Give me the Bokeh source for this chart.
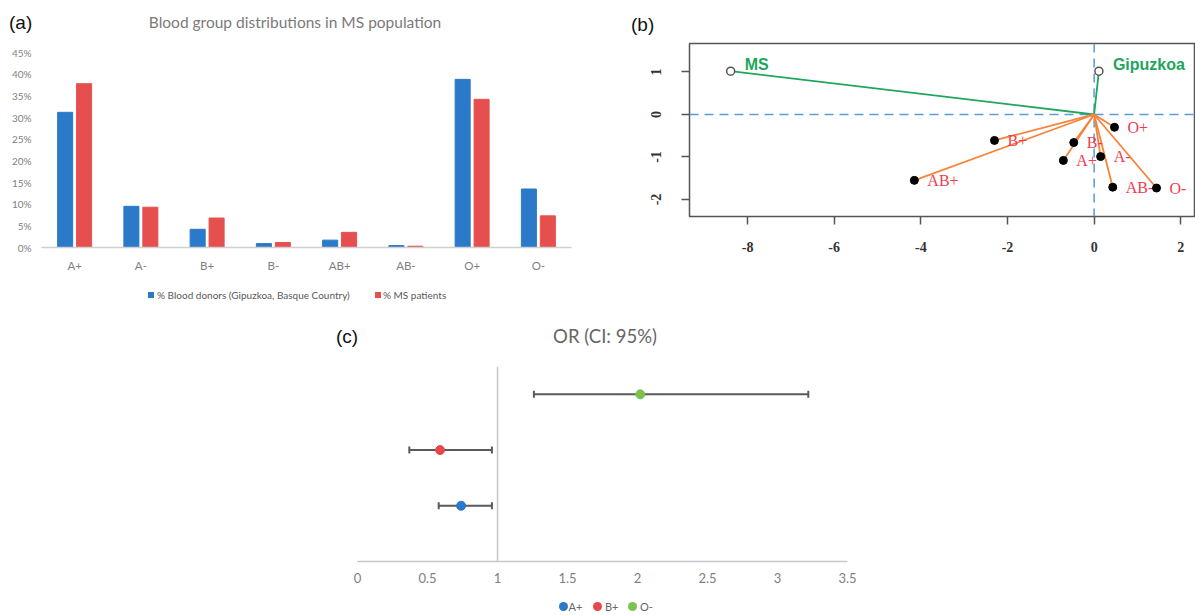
from bokeh.plotting import figure
from bokeh.models import (ColumnDataSource, FactorRange, Span, Whisker, TeeHead, Div,
                          NumeralTickFormatter, FixedTicker)
from bokeh.transform import dodge
from bokeh.core.properties import value
from bokeh.embed import file_html
from bokeh.resources import INLINE

# ---------------- data ----------------
# (a) blood group distributions
groups = ["A+", "A-", "B+", "B-", "AB+", "AB-", "O+", "O-"]
donors = [0.312, 0.095, 0.042, 0.009, 0.017, 0.0045, 0.388, 0.135]
ms_patients = [0.378, 0.093, 0.068, 0.0115, 0.035, 0.003, 0.342, 0.073]
pct_ticks = [0, 0.05, 0.10, 0.15, 0.20, 0.25, 0.30, 0.35, 0.40, 0.45]
series_a = ["% Blood donors (Gipuzkoa, Basque Country)", "% MS patients"]
title_a = "Blood group distributions in MS population"

# (b) correspondence analysis biplot
pop_names = ["MS", "Gipuzkoa"]
pop_x = [-8.39, 0.11]
pop_y = [1.02, 1.02]
bg_names = ["O+", "B+", "B-", "A+", "A-", "AB+", "AB-", "O-"]
bg_x = [0.47, -2.30, -0.47, -0.71, 0.15, -4.15, 0.43, 1.44]
bg_y = [-0.30, -0.61, -0.66, -1.08, -0.99, -1.55, -1.71, -1.73]
b_xticks = [-8, -6, -4, -2, 0, 2, 4]
b_yticks = [-2, -1, 0, 1]

# (c) odds ratios with 95% CI
or_groups = ["A+", "B+", "O-"]
or_vals = [0.74, 0.59, 2.02]
or_lo = [0.58, 0.37, 1.26]
or_hi = [0.96, 0.96, 3.22]
or_pos = [1, 2, 3]
or_colors = ["#2a7ac9", "#e8484b", "#7cc24f"]
c_xticks = [0, 0.5, 1, 1.5, 2, 2.5, 3, 3.5]
title_c = "OR (CI: 95%)"

BLUE = "#2a7ac9"
RED = "#e5504f"
EXCEL_FONT = "Lato"
PANEL_FONT = "Liberation Sans"

# ---------------- panel (a) ----------------
pa = figure(x_range=FactorRange(*groups, range_padding=0), y_range=(0, 0.45),
            width=595, height=315, output_backend="svg", toolbar_location=None,
            min_border_left=41, min_border_right=24, min_border_top=52, min_border_bottom=68,
            name="panel_a")
src_a = ColumnDataSource(dict(group=groups, donors=donors, ms=ms_patients))
pa.vbar(x=dodge("group", -0.143, range=pa.x_range), top="donors", width=0.227,
        source=src_a, fill_color=BLUE, line_color=BLUE)
pa.vbar(x=dodge("group", 0.143, range=pa.x_range), top="ms", width=0.227,
        source=src_a, fill_color=RED, line_color=RED)
pa.xgrid.visible = False
pa.ygrid.visible = False
pa.outline_line_color = None
pa.xaxis.axis_line_color = "#d0d0d0"
pa.xaxis.axis_line_width = 1.5
pa.xaxis.major_tick_line_color = None
pa.xaxis.major_tick_out = 0
pa.xaxis.minor_tick_line_color = None
pa.xaxis.major_label_text_color = "#7f7f7f"
pa.xaxis.major_label_text_font = EXCEL_FONT
pa.xaxis.major_label_text_font_size = "11.5px"
pa.xaxis.major_label_standoff = 11
pa.yaxis.axis_line_color = None
pa.yaxis.major_tick_line_color = None
pa.yaxis.major_tick_out = 0
pa.yaxis.minor_tick_line_color = None
pa.yaxis.ticker = FixedTicker(ticks=pct_ticks)
pa.yaxis.formatter = NumeralTickFormatter(format="0%")
pa.yaxis.major_label_text_color = "#7f7f7f"
pa.yaxis.major_label_text_font = EXCEL_FONT
pa.yaxis.major_label_text_font_size = "10px"
pa.yaxis.major_label_standoff = 10

# ---------------- panel (b) ----------------
pb = figure(x_range=(-9.34, 2.34), y_range=(-2.40, 1.67), width=595, height=265,
            output_backend="svg", toolbar_location=None,
            min_border_left=89, min_border_right=0, min_border_top=43, min_border_bottom=49,
            name="panel_b")
pb.xgrid.visible = False
pb.ygrid.visible = False
pb.outline_line_color = "#555555"
pb.outline_line_width = 1.5
for ax in (pb.xaxis, pb.yaxis):
    ax.axis_line_color = None
    ax.major_tick_in = 0
    ax.major_tick_out = 8
    ax.major_tick_line_color = "#555555"
    ax.major_tick_line_width = 1.5
    ax.minor_tick_line_color = None
    ax.formatter = NumeralTickFormatter(format="0")
    ax.major_label_text_font = "Liberation Serif"
    ax.major_label_text_font_size = "14px"
    ax.major_label_text_color = "#333333"
    ax.major_label_text_font_style = "bold"
pb.xaxis.ticker = FixedTicker(ticks=b_xticks)
pb.yaxis.ticker = FixedTicker(ticks=b_yticks)
pb.xaxis.major_label_standoff = 17
pb.yaxis.major_label_standoff = 20
pb.yaxis.major_label_orientation = "vertical"

pb.add_layout(Span(location=0, dimension="height", line_color="#5b9bd8", line_width=1.5,
                   line_dash="9 6", level="underlay"))
pb.add_layout(Span(location=0, dimension="width", line_color="#5b9bd8", line_width=1.5,
                   line_dash="9 6", level="underlay"))

src_pop = ColumnDataSource(dict(x=pop_x, y=pop_y, name=pop_names))
src_bg = ColumnDataSource(dict(x=bg_x, y=bg_y, name=bg_names))
pb.segment(x0=0, y0=0, x1="x", y1="y", source=src_pop, line_color="#1fa65c", line_width=1.8)
pb.segment(x0=0, y0=0, x1="x", y1="y", source=src_bg, line_color="#f5843a", line_width=1.8)
pb.text(x="x", y="y", text="name", source=src_bg, x_offset=13, text_baseline="middle",
        text_align="left", text_font=value("Liberation Serif"), text_font_size="16px",
        text_color="#f23b4e")
pb.text(x="x", y="y", text="name", source=src_pop, x_offset=14, y_offset=-7,
        text_baseline="middle", text_align="left", text_font=value("Liberation Sans"),
        text_font_size="16px", text_font_style="bold", text_color="#1fa65c")
pb.scatter(x="x", y="y", source=src_bg, size=8, fill_color="black", line_color="black")
pb.scatter(x="x", y="y", source=src_pop, size=8, fill_color="white", line_color="#555555",
           line_width=1.5)

# ---------------- panel (c) ----------------
pc = figure(x_range=(0, 3.5), y_range=(0, 3.5), width=577, height=297,
            output_backend="svg", toolbar_location=None,
            min_border_left=57, min_border_right=30, min_border_top=48, min_border_bottom=54,
            name="panel_c")
pc.xgrid.visible = False
pc.ygrid.visible = False
pc.outline_line_color = None
pc.yaxis.visible = False
pc.xaxis.ticker = FixedTicker(ticks=c_xticks)
pc.xaxis.formatter = NumeralTickFormatter(format="0.[0]")
pc.xaxis.axis_line_color = "#c8c8c8"
pc.xaxis.axis_line_width = 1.5
pc.xaxis.major_tick_line_color = None
pc.xaxis.major_tick_out = 0
pc.xaxis.minor_tick_line_color = None
pc.xaxis.major_label_text_color = "#7f7f7f"
pc.xaxis.major_label_text_font = EXCEL_FONT
pc.xaxis.major_label_text_font_size = "13px"
pc.xaxis.major_label_standoff = 11
pc.add_layout(Span(location=1, dimension="height", line_color="#c8c8c8", line_width=1.5,
                   level="underlay"))
src_c = ColumnDataSource(dict(grp=or_groups, orv=or_vals, lo=or_lo, hi=or_hi, ypos=or_pos,
                              col=or_colors))
pc.add_layout(Whisker(source=src_c, base="ypos", lower="lo", upper="hi", dimension="width",
                      line_color="#5a5a5a", line_width=2,
                      upper_head=TeeHead(size=7, line_color="#5a5a5a", line_width=2),
                      lower_head=TeeHead(size=7, line_color="#5a5a5a", line_width=2)))
pc.scatter(x="orv", y="ypos", source=src_c, size=9, fill_color="col", line_color="col")


# ---------------- texts outside the plot frames (titles, panel tags, legends) ----------------
def txt(x, yc, text, size, color, font=EXCEL_FONT, align="left", weight="normal"):
    lh = round(size * 1.2, 1)
    top = round(yc - lh / 2, 1)
    if align == "center":
        return (f'<div style="position:absolute; left:{x - 300}px; top:{top}px; width:600px; '
                f'text-align:center; font-family:\'{font}\'; font-size:{size}px; line-height:{lh}px; '
                f'color:{color}; font-weight:{weight}; white-space:nowrap;">{text}</div>')
    return (f'<div style="position:absolute; left:{x}px; top:{top}px; font-family:\'{font}\'; '
            f'font-size:{size}px; line-height:{lh}px; color:{color}; font-weight:{weight}; '
            f'white-space:nowrap;">{text}</div>')


def swatch(xc, yc, size, color, round_=False):
    radius = "50%" if round_ else "0"
    return (f'<div style="position:absolute; left:{xc - size / 2}px; top:{yc - size / 2}px; '
            f'width:{size}px; height:{size}px; background:{color}; border-radius:{radius};"></div>')


parts = [
    txt(9, 23, "(a)", 19, "#111111", font=PANEL_FONT),
    txt(295, 22, title_a, 15.5, "#7a7a7a", align="center"),
    swatch(151, 295, 6, BLUE), txt(157, 295, series_a[0], 10, "#595959"),
    swatch(378, 295, 6, RED), txt(383, 295, series_a[1], 10, "#595959"),
    txt(631, 25, "(b)", 19, "#111111", font=PANEL_FONT),
    txt(336, 337, "(c)", 19, "#111111", font=PANEL_FONT),
    txt(605, 336, title_c, 18.5, "#666666", align="center"),
]
for xc, xt, g, c in zip([563.5, 597, 632], [568.5, 605, 640], or_groups, or_colors):
    parts.append(swatch(xc, 606.5, 9, c, round_=True))
    parts.append(txt(xt, 606.5, g, 11, "#666666"))

texts = Div(text="".join(parts), width=1195, height=615, name="texts", margin=0,
            styles={"position": "relative", "margin": "0px", "padding": "0px"})

PAGE = """
{% block contents %}
<div style="position: absolute; left: 0px; top: 0px;">{{ embed(roots.panel_a) }}</div>
<div style="position: absolute; left: 600px; top: 0px;">{{ embed(roots.panel_b) }}</div>
<div style="position: absolute; left: 300px; top: 318px;">{{ embed(roots.panel_c) }}</div>
<div style="position: absolute; left: 0px; top: 0px; pointer-events: none;">{{ embed(roots.texts) }}</div>
{% endblock %}
"""
open("out.html", "w").write(file_html([pa, pb, pc, texts], INLINE, template=PAGE))
